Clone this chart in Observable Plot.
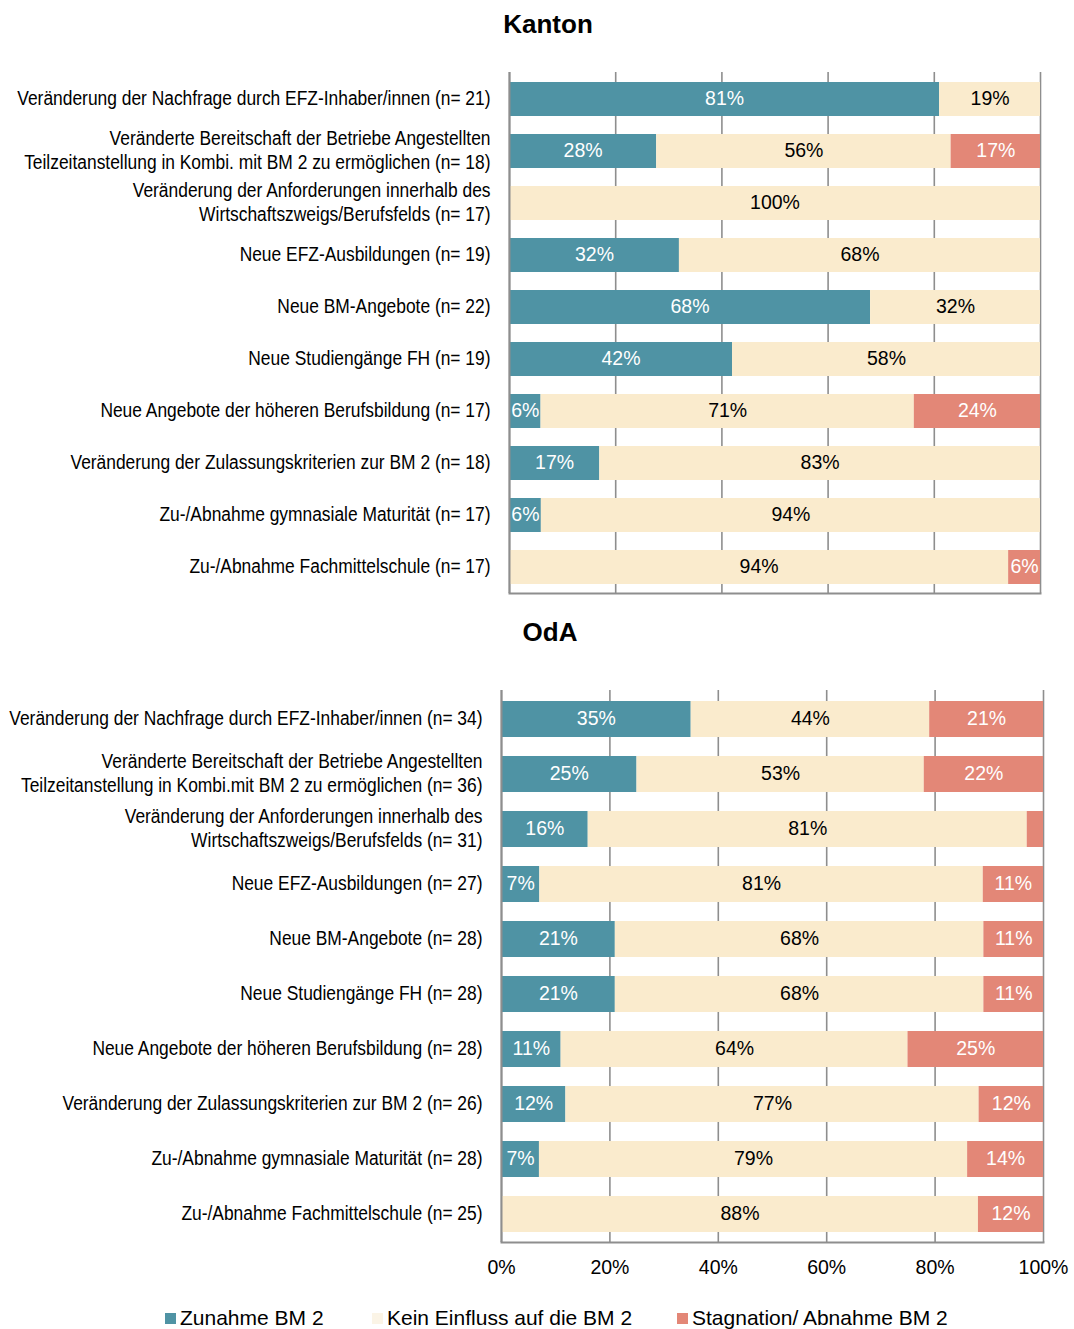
<!DOCTYPE html>
<html>
<head>
<meta charset="utf-8">
<script src="https://cdn.jsdelivr.net/npm/d3@7"></script>
<script src="https://cdn.jsdelivr.net/npm/@observablehq/plot@0.6"></script>
<style>
  body { margin: 0; background: #fff; }
  #root { position: relative; width: 1074px; height: 1329px; font-family: "Liberation Sans", Arial, sans-serif; }
  .title { position: absolute; font-weight: bold; font-size: 26px; transform: translate(-50%, -50%); color: #000; white-space: nowrap; }
  .chart { position: absolute; left: 0; }
  #legend { position: absolute; top: 1305px; left: 0; width: 1074px; height: 26px; font-size: 21px; color: #000; }
  .li { position: absolute; top: 0; white-space: nowrap; line-height: 26px; }
  .sw { display: inline-block; width: 11px; height: 11px; margin-right: 4px; vertical-align: 1px; }
</style>
</head>
<body>
<div id="root"></div>
<script>
// ---- data ----
const seriesNames = ["Zunahme BM 2", "Kein Einfluss auf die BM 2", "Stagnation/ Abnahme BM 2"];
const seriesColors = ["#4F93A4", "#FAEBCD", "#E38777"];
const legendColors = ["#4F93A4", "#FBF4E6", "#E38777"];

const categoriesKanton = [
  "Veränderung der Nachfrage durch EFZ-Inhaber/innen (n= 21)",
  "Veränderte Bereitschaft der Betriebe Angestellten\nTeilzeitanstellung in Kombi. mit BM 2 zu ermöglichen (n= 18)",
  "Veränderung der Anforderungen innerhalb des\nWirtschaftszweigs/Berufsfelds (n= 17)",
  "Neue EFZ-Ausbildungen (n= 19)",
  "Neue BM-Angebote (n= 22)",
  "Neue Studiengänge FH (n= 19)",
  "Neue Angebote der höheren Berufsbildung (n= 17)",
  "Veränderung der Zulassungskriterien zur BM 2 (n= 18)",
  "Zu-/Abnahme gymnasiale Maturität (n= 17)",
  "Zu-/Abnahme Fachmittelschule (n= 17)"
];
const kantonZunahme    = [81, 28, 0, 32, 68, 42, 6, 17, 6, 0];
const kantonKein       = [19, 56, 100, 68, 32, 58, 71, 83, 94, 94];
const kantonStagnation = [0, 17, 0, 0, 0, 0, 24, 0, 0, 6];

const categoriesOdA = [
  "Veränderung der Nachfrage durch EFZ-Inhaber/innen (n= 34)",
  "Veränderte Bereitschaft der Betriebe Angestellten\nTeilzeitanstellung in Kombi.mit BM 2 zu ermöglichen (n= 36)",
  "Veränderung der Anforderungen innerhalb des\nWirtschaftszweigs/Berufsfelds (n= 31)",
  "Neue EFZ-Ausbildungen (n= 27)",
  "Neue BM-Angebote (n= 28)",
  "Neue Studiengänge FH (n= 28)",
  "Neue Angebote der höheren Berufsbildung (n= 28)",
  "Veränderung der Zulassungskriterien zur BM 2 (n= 26)",
  "Zu-/Abnahme gymnasiale Maturität (n= 28)",
  "Zu-/Abnahme Fachmittelschule (n= 25)"
];
const odaZunahme    = [35, 25, 16, 7, 21, 21, 11, 12, 7, 0];
const odaKein       = [44, 53, 81, 81, 68, 68, 64, 77, 79, 88];
const odaStagnation = [21, 22, 3, 11, 11, 11, 25, 12, 14, 12];

const tickValues = [0, 20, 40, 60, 80, 100];
const titles = ["Kanton", "OdA"];

// ---- helpers ----
const valueFont = "'Liberation Sans', Arial, sans-serif";

function tidy(cats, a, b, c) {
  const out = [];
  cats.forEach((cat, i) => {
    [a, b, c].forEach((arr, s) => out.push({cat, series: seriesNames[s], si: s, value: arr[i]}));
  });
  return out;
}

function makeChart(cats, a, b, c, o) {
  const data = tidy(cats, a, b, c);
  const ticks = tickValues.map(t => t / 100);
  const stackOpts = {y: "cat", x: "value", offset: "normalize", order: null};
  const svg = Plot.plot({
    width: 1074,
    height: o.height,
    marginLeft: o.marginLeft,
    marginRight: o.marginRight,
    marginTop: o.marginTop,
    marginBottom: o.marginBottom,
    x: {domain: [0, 1], axis: null, label: null},
    y: {domain: cats, paddingInner: 0.35, paddingOuter: 0.175, axis: null, label: null},
    color: {type: "identity"},
    style: {fontFamily: valueFont, background: "transparent", overflow: "visible"},
    marks: [
      Plot.ruleX(ticks, {stroke: "#8e8e8e", strokeWidth: 1.6}),
      Plot.barX(data, Plot.stackX({...stackOpts, fill: d => seriesColors[d.si]})),
      Plot.textX(data, Plot.stackX({
        ...stackOpts,
        text: d => d.value >= 5 ? d.value + "%" : "",
        fill: d => d.si === 1 ? "#000000" : "#ffffff",
        fontSize: 19.5,
        dy: -1
      })),
      Plot.axisY({tickSize: 0, tickPadding: 19, fontSize: 20, fontFamily: valueFont, lineHeight: 1.2, fill: "#000", label: null, dy: -2.5}),
      Plot.ruleX([0], {stroke: "#8e8e8e", strokeWidth: 2}),
      Plot.frame({anchor: "bottom", stroke: "#8e8e8e", strokeWidth: 2}),
      o.showX ? Plot.axisX(ticks, {tickSize: 0, tickPadding: 18, fontSize: 19.5, tickFormat: d => Math.round(d * 100) + "%", fill: "#000", label: null}) : null
    ]
  });
  // condense category labels (Arial Narrow look)
  svg.querySelectorAll('g[aria-label^="y-axis"] text').forEach(t => {
    const tr = t.getAttribute("transform") || "";
    t.setAttribute("transform", tr + " scale(0.87,1)");
  });
  return svg;
}

// ---- layout ----
const root = document.getElementById("root");

function addTitle(text, x, y) {
  const d = document.createElement("div");
  d.className = "title";
  d.textContent = text;
  d.style.left = x + "px";
  d.style.top = y + "px";
  root.appendChild(d);
}

addTitle(titles[0], 548, 24);
const c1 = makeChart(categoriesKanton, kantonZunahme, kantonKein, kantonStagnation,
  {height: 600, marginLeft: 509, marginRight: 34, marginTop: 72, marginBottom: 7, showX: false});
const w1 = document.createElement("div"); w1.className = "chart"; w1.style.top = "0px"; w1.appendChild(c1); root.appendChild(w1);

addTitle(titles[1], 550, 632);
const c2 = makeChart(categoriesOdA, odaZunahme, odaKein, odaStagnation,
  {height: 640, marginLeft: 501, marginRight: 31, marginTop: 50, marginBottom: 38, showX: true});
const w2 = document.createElement("div"); w2.className = "chart"; w2.style.top = "640px"; w2.appendChild(c2); root.appendChild(w2);

// legend
const legend = document.createElement("div");
legend.id = "legend";
const legendX = [165, 372, 677];
seriesNames.forEach((name, i) => {
  const item = document.createElement("div");
  item.className = "li";
  item.style.left = legendX[i] + "px";
  const sw = document.createElement("span");
  sw.className = "sw";
  sw.style.background = legendColors[i];
  item.appendChild(sw);
  item.appendChild(document.createTextNode(name));
  legend.appendChild(item);
});
root.appendChild(legend);
</script>
</body>
</html>
